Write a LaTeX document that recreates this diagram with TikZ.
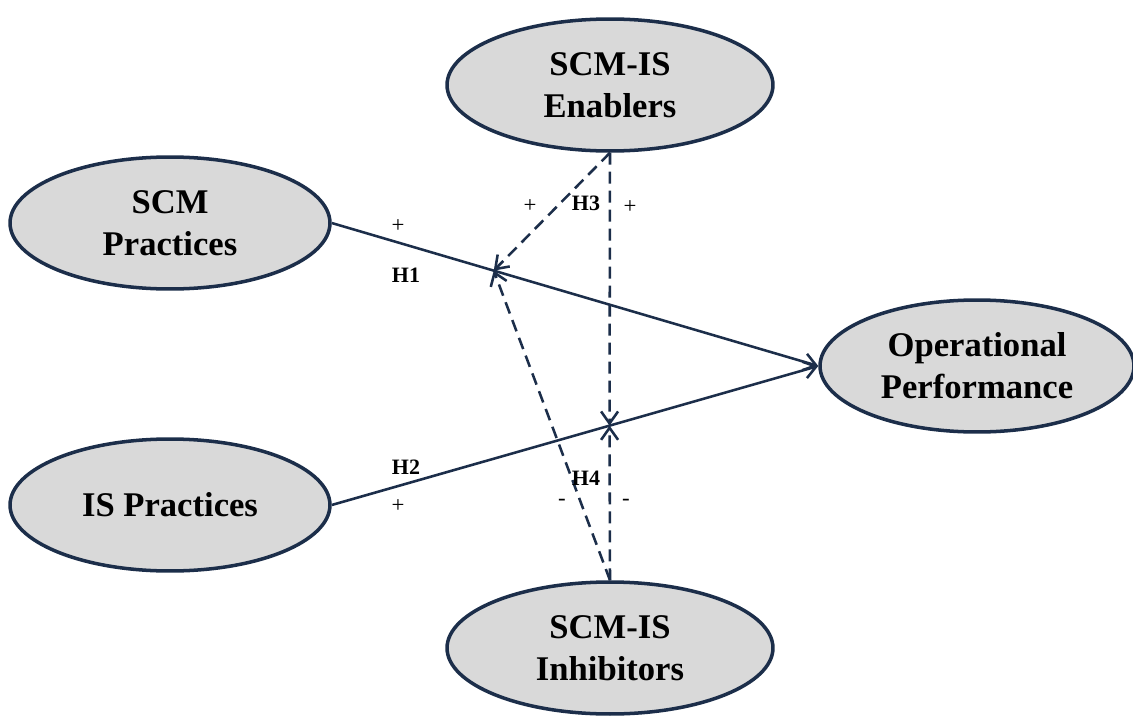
\documentclass[tikz,border=0pt]{standalone}
\usepackage{fontspec}
\setmainfont{Liberation Serif}
\usetikzlibrary{shapes.geometric, arrows.meta, calc}
\definecolor{navy}{HTML}{1C2E4A}
\definecolor{lgray}{HTML}{D9D9D9}

\begin{document}
\begin{tikzpicture}[x=0.02cm, y=-0.02cm,
  cons/.style={ellipse, draw=navy, line width=2pt, fill=lgray, inner sep=0pt,
    minimum width=6.4cm, minimum height=2.64cm, align=center,
    font=\fontsize{19.7}{23.8}\selectfont\bfseries},
  hyp/.style={->, >={Straight Barb[length=0.24cm,width=0.34cm]}, draw=navy, line width=1.45pt},
  mod/.style={hyp, dash pattern=on 0.24cm off 0.14cm},
  lbl/.style={font=\fontsize{13}{15}\selectfont},
  hlbl/.style={font=\fontsize{12.5}{15}\selectfont\bfseries}]
\useasboundingbox (0,0) rectangle (1133,720);
\node[cons, minimum width=6.52cm] (enab) at (610,85) {SCM-IS\\Enablers};
\node[cons] (scm) at (170,223) {SCM\\Practices};
\node[cons, minimum width=6.28cm] (op) at (977,366) {Operational\\Performance};
\node[cons] (isp) at (170,505) {IS Practices};
\node[cons, minimum width=6.52cm] (inhib) at (610,648) {SCM-IS\\Inhibitors};
% Direct effects
\draw[hyp] (scm.east) -- (op.west);
\draw[hyp] (isp.east) -- (op.west);
\coordinate (m1) at ($(scm.east)!0.333!(op.west)$);
\coordinate (m2) at ($(isp.east)!0.571!(op.west)$);
% Moderators
\draw[mod] (enab.south) -- (m1);
\draw[mod] (enab.south) -- (m2);
\draw[mod] (inhib.north) -- (m1);
\draw[mod] (inhib.north) -- (m2);
% Labels
\node[lbl] (s1) at (398,226) {+};
\node[hlbl] (h1) at (406,275) {H1};
\node[hlbl] (h2) at (406,467) {H2};
\node[lbl] (s2) at (398,506) {+};
\node[lbl] (s3a) at (530,206) {+};
\node[hlbl] (h3) at (586,203) {H3};
\node[lbl] (s3b) at (630,207) {+};
\node[hlbl] (h4) at (586,478) {H4};
\node[lbl] (s4a) at (562,502) {-};
\node[lbl] (s4b) at (626,502) {-};
\end{tikzpicture}
\end{document}
